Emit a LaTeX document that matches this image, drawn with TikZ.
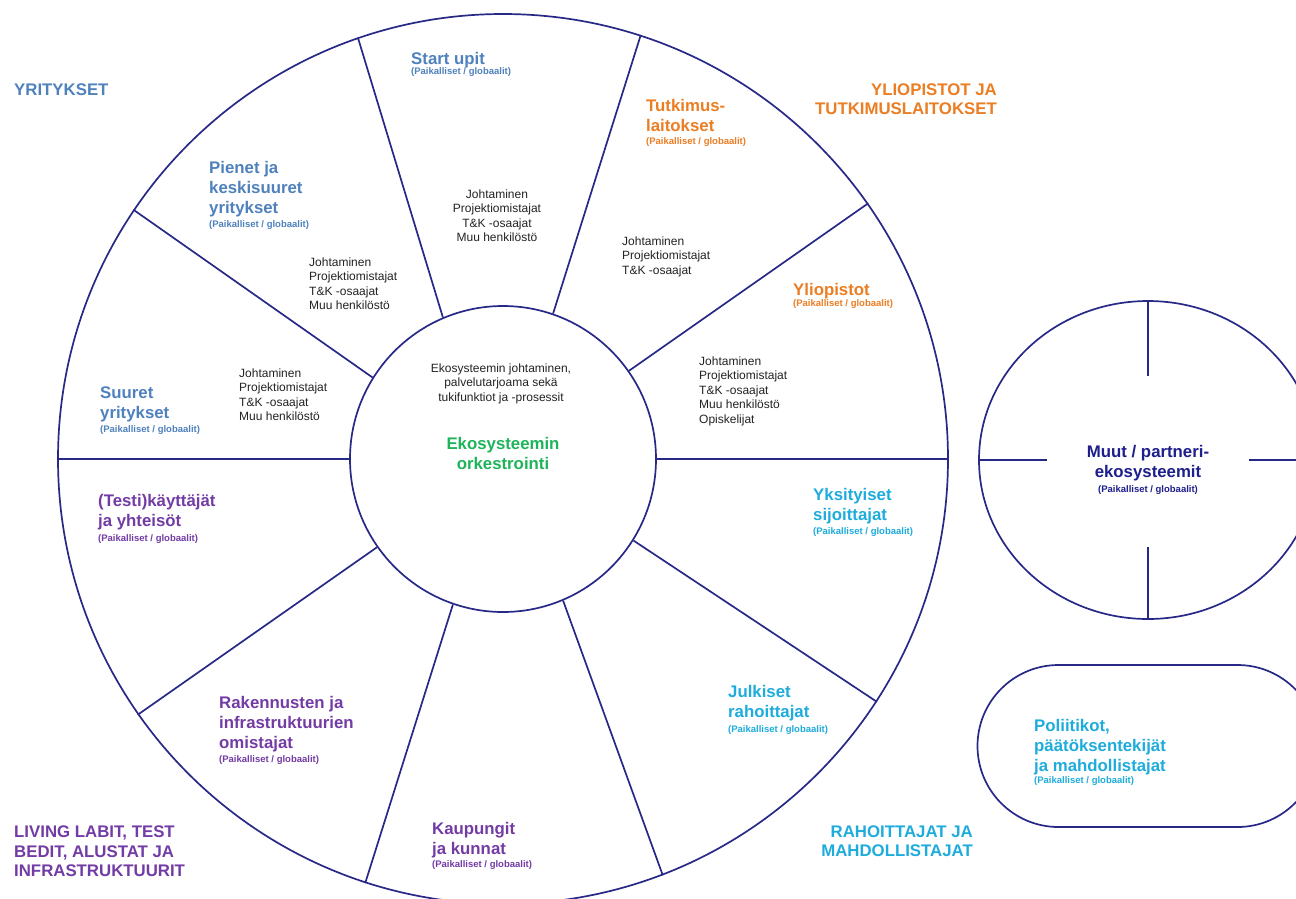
\documentclass[tikz,border=0pt]{standalone}
\usepackage{fontspec}
\setmainfont{Liberation Sans}
\usetikzlibrary{shapes.geometric,shapes.misc}
\definecolor{navy}{RGB}{40,40,135}
\definecolor{cblue}{RGB}{79,129,189}
\definecolor{corange}{RGB}{235,125,35}
\definecolor{cgreen}{RGB}{30,180,90}
\definecolor{ccyan}{RGB}{30,172,220}
\definecolor{cpurple}{RGB}{115,60,165}
\definecolor{ctext}{RGB}{35,35,35}
\definecolor{cmuut}{RGB}{30,30,140}
\tikzset{
  ln/.style={draw=navy, line width=1.7pt},
  ttl/.style={font=\fontsize{16.8}{20}\selectfont\bfseries, inner sep=0pt, anchor=base west, align=left},
  sub/.style={font=\fontsize{9.5}{11}\selectfont\bfseries, inner sep=0pt, anchor=base west},
  lst/.style={font=\fontsize{12}{14.5}\selectfont, inner sep=0pt, anchor=base west, align=left, text=ctext},
  cat/.style={font=\fontsize{16.8}{19.5}\selectfont\bfseries, inner sep=0pt, anchor=base west, align=left},
}
\begin{document}
\begin{tikzpicture}[x=1pt,y=-1pt]
\useasboundingbox (0,0) rectangle (1296,898);
\clip (0,0) rectangle (1296,898);
\fill[white] (0,0) rectangle (1296,898);

% main wheel
\node[circle, ln, minimum size=890pt, inner sep=0pt] (outer) at (503,459) {};
\node[circle, ln, minimum size=306pt, inner sep=0pt] (inner) at (503,459) {};
\draw[ln] (inner.0) -- (outer.0);
\draw[ln] (inner.35) -- (outer.35);
\draw[ln] (inner.71) -- (outer.72);
\draw[ln] (inner.113) -- (outer.109);
\draw[ln] (inner.148) -- (outer.146);
\draw[ln] (inner.180) -- (outer.180);
\draw[ln] (inner.215) -- (outer.215);
\draw[ln] (inner.251) -- (outer.252);
\draw[ln] (inner.293) -- (outer.291);
\draw[ln] (inner.328) -- (outer.327);

% partner ecosystem ellipse
\node[ellipse, ln, minimum width=338pt, minimum height=318pt, inner sep=0pt] (partner) at (1148,460) {};
\coordinate (pw) at (1047,460);
\coordinate (pe) at (1249,460);
\coordinate (pn) at (1148,376);
\coordinate (ps) at (1148,547);
\draw[ln] (partner.west) -- (pw);
\draw[ln] (partner.east) -- (pe);
\draw[ln] (partner.north) -- (pn);
\draw[ln] (partner.south) -- (ps);

% politicians stadium
\node[rounded rectangle, ln, minimum width=341pt, minimum height=162pt, inner sep=0pt] (polit) at (1148,746) {};

% category labels (base = last line)
\node[cat, text=cblue] (catyr) at (14,95) {YRITYKSET};
\node[cat, text=corange, anchor=base east, align=right] (catyl) at (997,114.5) {YLIOPISTOT JA\\TUTKIMUSLAITOKSET};
\node[cat, text=cpurple] (catll) at (14,876.5) {LIVING LABIT, TEST\\BEDIT, ALUSTAT JA\\INFRASTRUKTUURIT};
\node[cat, text=ccyan, anchor=base east, align=right] (catra) at (973,856.5) {RAHOITTAJAT JA\\MAHDOLLISTAJAT};

% segment titles
\node[ttl, text=cblue] (t1) at (411,64) {Start upit};
\node[sub, text=cblue] (s1) at (411,74.5) {(Paikalliset / globaalit)};
\node[ttl, text=cblue] (t2) at (209,213) {Pienet ja\\keskisuuret\\yritykset};
\node[sub, text=cblue] (s2) at (209,227) {(Paikalliset / globaalit)};
\node[ttl, text=cblue] (t3) at (100,418) {Suuret\\yritykset};
\node[sub, text=cblue] (s3) at (100,432) {(Paikalliset / globaalit)};
\node[ttl, text=corange] (t4) at (646,131) {Tutkimus-\\laitokset};
\node[sub, text=corange] (s4) at (646,144) {(Paikalliset / globaalit)};
\node[ttl, text=corange] (t5) at (793,295) {Yliopistot};
\node[sub, text=corange] (s5) at (793,306) {(Paikalliset / globaalit)};
\node[ttl, text=ccyan] (t6) at (813,520) {Yksityiset\\sijoittajat};
\node[sub, text=ccyan] (s6) at (813,534) {(Paikalliset / globaalit)};
\node[ttl, text=ccyan] (t7) at (728,717) {Julkiset\\rahoittajat};
\node[sub, text=ccyan] (s7) at (728,732) {(Paikalliset / globaalit)};
\node[ttl, text=cpurple] (t8) at (432,854) {Kaupungit\\ja kunnat};
\node[sub, text=cpurple] (s8) at (432,867) {(Paikalliset / globaalit)};
\node[ttl, text=cpurple] (t9) at (219,748) {Rakennusten ja\\infrastruktuurien\\omistajat};
\node[sub, text=cpurple] (s9) at (219,762) {(Paikalliset / globaalit)};
\node[ttl, text=cpurple] (t10) at (98,526) {(Testi)käyttäjät\\ja yhteisöt};
\node[sub, text=cpurple] (s10) at (98,541) {(Paikalliset / globaalit)};
\node[ttl, text=cmuut, anchor=base, align=center] (t11) at (1148,477) {Muut / partneri-\\ekosysteemit};
\node[sub, text=cmuut, anchor=base] (s11) at (1148,492) {(Paikalliset / globaalit)};
\node[ttl, text=ccyan] (t12) at (1034,771) {Poliitikot,\\päätöksentekijät\\ja mahdollistajat};
\node[sub, text=ccyan] (s12) at (1034,783) {(Paikalliset / globaalit)};

% staff lists
\node[lst, anchor=base, align=center] (l1) at (497,241.5) {Johtaminen\\Projektiomistajat\\T\&K -osaajat\\Muu henkilöstö};
\node[lst] (l2) at (309,309.5) {Johtaminen\\Projektiomistajat\\T\&K -osaajat\\Muu henkilöstö};
\node[lst] (l3) at (239,420.5) {Johtaminen\\Projektiomistajat\\T\&K -osaajat\\Muu henkilöstö};
\node[lst] (l4) at (622,274) {Johtaminen\\Projektiomistajat\\T\&K -osaajat};
\node[lst] (l5) at (699,423) {Johtaminen\\Projektiomistajat\\T\&K -osaajat\\Muu henkilöstö\\Opiskelijat};

% centre
\node[lst, anchor=base, align=center] (c1) at (501,401) {Ekosysteemin johtaminen,\\palvelutarjoama sekä\\tukifunktiot ja -prosessit};
\node[ttl, text=cgreen, anchor=base, align=center] (c2) at (503,469) {Ekosysteemin\\orkestrointi};
\end{tikzpicture}
\end{document}
